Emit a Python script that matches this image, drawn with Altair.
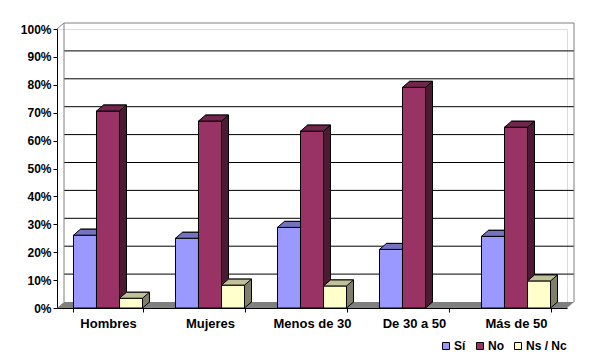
import altair as alt
import pandas as pd

categories = ["Hombres", "Mujeres", "Menos de 30", "De 30 a 50", "Más de 50"]
series = ["Sí", "No", "Ns / Nc"]
si = [26.1, 25.0, 28.9, 21.0, 25.7]
no = [70.6, 67.0, 63.4, 79.1, 64.8]
ns_nc = [3.5, 8.2, 7.9, 0.0, 9.7]
y_ticks = [0, 10, 20, 30, 40, 50, 60, 70, 80, 90, 100]

front_colors = ["#9999FF", "#993366", "#FFFFCC"]
top_colors = ["#7373C0", "#73264D", "#C0C099"]
side_colors = ["#4D4D80", "#4D1A33", "#80806A"]

W, H = 510, 279
DX, DY = 7, 6
P_IN = 0.3235
P_OUT = P_IN / 2
STEP = W / 5
BW = STEP * (1 - P_IN) / 3  # one bar's width
HW = BW / 2
FONT = "Liberation Sans"

rows = []
for i, c in enumerate(categories):
    for s, vals in zip(series, [si, no, ns_nc]):
        rows.append({"cat": c, "ser": s, "val": vals[i]})
df = pd.DataFrame(rows)
ticks_df = pd.DataFrame({"t": y_ticks})

x_axis = alt.Axis(title=None, tickBand="extent", labelAngle=0, labelFont=FONT,
                  labelFontSize=13, labelFontWeight="bold", labelColor="black",
                  domainColor="black", tickColor="black", tickSize=4,
                  labelPadding=5)
y_axis = alt.Axis(title=None, values=y_ticks, labelExpr="datum.value + '%'",
                  labelFont=FONT, labelFontSize=12, labelFontWeight="bold",
                  labelColor="black", domainColor="black", tickColor="black",
                  tickSize=4, labelPadding=2, grid=False)
x_scale = alt.Scale(domain=categories, paddingInner=P_IN, paddingOuter=P_OUT)
y_scale = alt.Scale(domain=[0, 100], nice=False, zero=True)

X = alt.X("cat:N", sort=categories, scale=x_scale, axis=x_axis)
Y = alt.Y("val:Q", scale=y_scale, axis=y_axis)
YT = alt.Y("t:Q", scale=y_scale, axis=y_axis)


def ydatum(v):
    return alt.YDatum(v, type="quantitative", scale=y_scale, axis=y_axis)


layers = []

# floor
layers.append(
    alt.Chart(ticks_df).transform_filter("datum.t == 0").mark_point(
        shape=f"M0,0L{DX},{-DY}L{W + DX},{-DY}L{W},0Z", size=4, filled=True,
        fill="#808080", strokeWidth=0, opacity=1
    ).encode(x=alt.value(0), y=YT)
)
# gridlines on back wall
layers.append(
    alt.Chart(ticks_df).transform_filter("datum.t > 0 && datum.t < 100").mark_rule(
        color="black", strokeWidth=1, yOffset=-DY
    ).encode(y=YT, x=alt.value(DX), x2=alt.value(W + DX))
)
# wall borders
wall = alt.Chart(ticks_df).transform_filter("datum.t == 100")
layers.append(wall.mark_rule(color="#808080", yOffset=-DY).encode(
    y=YT, x=alt.value(DX), x2=alt.value(W + DX)))
layers.append(wall.mark_rule(color="#808080", yOffset=-DY, y2Offset=-DY).encode(
    y=YT, y2=alt.Y2Datum(0), x=alt.value(DX)))
layers.append(wall.mark_rule(color="#808080", yOffset=-DY, y2Offset=-DY).encode(
    y=YT, y2=alt.Y2Datum(0), x=alt.value(W + DX)))
layers.append(wall.mark_rule(color="#808080", y2Offset=-DY).encode(
    y=YT, y2=alt.Y2Datum(100), x=alt.value(0), x2=alt.value(DX)))

legend = alt.Legend(title=None, orient="none", direction="horizontal",
                    legendX=383, legendY=311, symbolType="square",
                    symbolSize=49, symbolStrokeColor="black",
                    symbolStrokeWidth=1, symbolOpacity=1, labelFont=FONT,
                    labelFontSize=12, labelFontWeight="bold", labelColor="black",
                    labelOffset=2, columnPadding=8, padding=0, gridAlign="none")

for k, s in enumerate(series):
    shift = (k - 1) * BW
    base = alt.Chart(df).transform_filter(
        f"datum.ser == '{s}' && datum.val > 0")
    # side face (back copy)
    layers.append(base.mark_bar(
        color=side_colors[k], stroke="black", strokeWidth=1, width=BW,
        xOffset=shift + DX, yOffset=-DY, y2Offset=-DY
    ).encode(x=X, y=Y))
    # bottom triangle of side face
    layers.append(base.mark_point(
        shape=f"M{HW:.2f},{-DY - 1}L{HW:.2f},0L{HW + DX:.2f},{-DY}L{HW + DX:.2f},{-DY - 1}",
        size=4, filled=True, fill=side_colors[k], stroke="black",
        strokeWidth=1, opacity=1, xOffset=shift
    ).encode(x=X, y=ydatum(0)))
    # front face
    layers.append(base.mark_bar(stroke="black", strokeWidth=1, opacity=1,
                                width=BW, xOffset=shift).encode(
        x=X, y=Y,
        color=alt.Color("ser:N", scale=alt.Scale(domain=series, range=front_colors),
                        legend=legend)))
    # top face
    layers.append(base.mark_point(
        shape=f"M{-HW:.2f},0L{HW:.2f},0L{HW + DX:.2f},{-DY}L{-HW + DX:.2f},{-DY}Z",
        size=4, filled=True, fill=top_colors[k], stroke="black",
        strokeWidth=1, opacity=1, xOffset=shift
    ).encode(x=X, y=Y))

chart = alt.layer(*layers).properties(
    width=W, height=H,
    autosize=alt.AutoSizeParams(type="none"),
    padding={"left": 49, "top": 21, "right": 15, "bottom": 48},
).configure_view(stroke=None).configure(background="white")

chart.save("out.html", embed_options={"renderer": "svg", "actions": False})
